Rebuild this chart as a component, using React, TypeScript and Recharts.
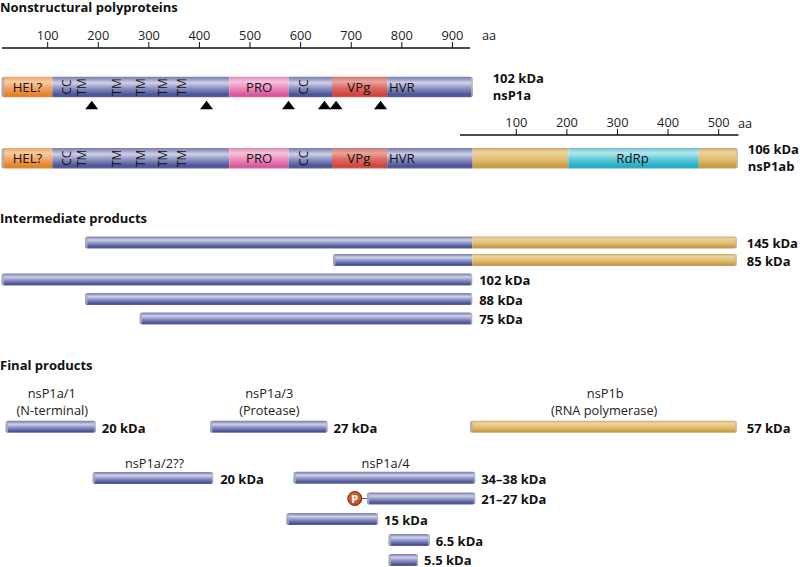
import React from "react";
import { ComposedChart, Bar, XAxis, YAxis, ReferenceDot } from "recharts";

// ---- data (amino-acid positions and lengths) ----
const rowNames = ["nsP1a", "nsP1ab", "i145", "i85", "i102", "i88", "i75", "nsP1a/1", "nsP1a/3", "nsP1b", "nsP1a/2", "nsP1a/4", "p21", "p15", "p6.5", "p5.5"];
const kda = ["102 kDa", "106 kDa", "145 kDa", "85 kDa", "102 kDa", "88 kDa", "75 kDa", "20 kDa", "27 kDa", "57 kDa", "20 kDa", "34–38 kDa", "21–27 kDa", "15 kDa", "6.5 kDa", "5.5 kDa"];
const gap = [9, 9, 174, 664, 9, 174, 282, 17, 421, 935, 189, 586, 731, 572, 774, 774];
const hel = [100, 100, 0, 0, 0, 0, 0, 0, 0, 0, 0, 0, 0, 0, 0, 0];
const ns = [350, 350, 765, 275, 930, 765, 657, 178, 232, 0, 238, 359, 214, 181, 81, 58];
const pro = [117, 117, 0, 0, 0, 0, 0, 0, 0, 0, 0, 0, 0, 0, 0, 0];
const cc = [86, 86, 0, 0, 0, 0, 0, 0, 0, 0, 0, 0, 0, 0, 0, 0];
const vpg = [109, 109, 0, 0, 0, 0, 0, 0, 0, 0, 0, 0, 0, 0, 0, 0];
const hvr = [169, 169, 0, 0, 0, 0, 0, 0, 0, 0, 0, 0, 0, 0, 0, 0];
const goldA = [0, 189, 523, 523, 0, 0, 0, 0, 0, 527, 0, 0, 0, 0, 0, 0];
const rdrp = [0, 258, 0, 0, 0, 0, 0, 0, 0, 0, 0, 0, 0, 0, 0, 0];
const goldB = [0, 77, 0, 0, 0, 0, 0, 0, 0, 0, 0, 0, 0, 0, 0, 0];
const cleavageSites = [187, 414, 576, 647, 670, 758];
const ticksA = [100, 200, 300, 400, 500, 600, 700, 800, 900];
const ticksB = [100, 200, 300, 400, 500];

const domains = [
  { text: "HEL?", aa: 60 }, { text: "CC", aa: 138, rot: true }, { text: "TM", aa: 166, rot: true },
  { text: "TM", aa: 236, rot: true }, { text: "TM", aa: 284, rot: true }, { text: "TM", aa: 326, rot: true },
  { text: "TM", aa: 365, rot: true }, { text: "PRO", aa: 518 }, { text: "CC", aa: 605, rot: true },
  { text: "VPg", aa: 715 }, { text: "HVR", aa: 800 },
];

const productNames = [
  { text: "nsP1a/1", aa: 108, line: 0 }, { text: "(N-terminal)", aa: 109, line: 1 },
  { text: "nsP1a/3", aa: 538, line: 0 }, { text: "(Protease)", aa: 538, line: 1 },
  { text: "nsP1b", aa: 1202, line: 0 }, { text: "(RNA polymerase)", aa: 1200, line: 1 },
  { text: "nsP1a/2??", aa: 311, line: 2 }, { text: "nsP1a/4", aa: 768, line: 2 },
];

// ---- layout ----
const W = 800, H = 567;
const PX_PER_AA = 0.5059;
const FONT = "'Open Sans', sans-serif";
const rowY = [87, 158.3, 242.5, 260, 279.5, 299, 318.5, 426.8, 426.8, 426.8, 478, 477.8, 498.5, 519, 540, 560];
const labelGap = [20, 10, 10, 10, 7, 7, 7, 6, 6, 10, 7, 6, 6, 6, 6, 6];
const lineY = [393, 410, 463];
const TALL = 2;

const segKeys = ["hel", "ns", "pro", "cc", "vpg", "hvr", "goldA", "rdrp", "goldB"];
const seriesByKey: Record<string, number[]> = { gap, hel, ns, pro, cc, vpg, hvr, goldA, rdrp, goldB };
const rows = rowNames.map((name, i) => {
  const r: any = { name, y: rowY[i], kda: kda[i], idx: i };
  Object.keys(seriesByKey).forEach((k) => (r[k] = seriesByKey[k][i]));
  r.end = Object.keys(seriesByKey).reduce((s, k) => s + seriesByKey[k][i], 0);
  return r;
});

const fillOf: Record<string, string> = {
  hel: "url(#gHel)", ns: "url(#gNs)", pro: "url(#gPro)", cc: "url(#gNs)", vpg: "url(#gVpg)", hvr: "url(#gNs)",
  goldA: "url(#gGold)", rdrp: "url(#gRdrp)", goldB: "url(#gGold)",
};

function makeShape(key: string) {
  return (p: any) => {
    const { x, y, width, payload } = p;
    if (!width || width <= 0) return <g />;
    const tall = payload.idx < TALL;
    const h = tall ? 20.5 : 12;
    const top = y - h / 2;
    const present = segKeys.filter((k) => payload[k] > 0);
    const first = present[0] === key;
    const last = present[present.length - 1] === key;
    const r = 2.5;
    const rl = first ? r : 0;
    const rr = last ? r : 0;
    const d = `M${x + rl},${top} H${x + width - rr} Q${x + width},${top} ${x + width},${top + rr} V${top + h - rr} Q${x + width},${top + h} ${x + width - rr},${top + h} H${x + rl} Q${x},${top + h} ${x},${top + h - rl} V${top + rl} Q${x},${top} ${x + rl},${top} Z`;
    return (
      <g>
        <path d={d} fill={fillOf[key]} />
        {first && <rect x={x} y={top + 0.5} width={2.4} height={h - 1} rx={1.2} fill="#a9abb8" fillOpacity={0.85} />}
        {last && <rect x={x + width - 1.6} y={top + 0.5} width={1.6} height={h - 1} rx={0.8} fill="#b8b9c2" fillOpacity={0.7} />}
      </g>
    );
  };
}

const Txt = (props: any) => <text fontFamily={FONT} fill="#111" dominantBaseline="central" {...props} />;

function Triangle(p: any) {
  const { cx, cy } = p;
  return <path d={`M${cx - 6.5},${cy + 4.2} L${cx},${cy - 4.2} L${cx + 6.5},${cy + 4.2} Z`} fill="#000" />;
}

function Phospho(p: any) {
  const { cx, cy } = p;
  return (
    <g>
      <line x1={cx + 7} x2={cx + 12} y1={cy} y2={cy} stroke="#555" strokeWidth={1} />
      <circle cx={cx} cy={cy} r={7} fill="url(#gP)" stroke="#7a2c10" strokeWidth={1} />
      <Txt x={cx} y={cy} textAnchor="middle" fontSize={11} fontWeight={700} fill="#fff">P</Txt>
    </g>
  );
}

function AaAxis({ left, top, width, domain, ticks }: any) {
  return (
    <div style={{ position: "absolute", left, top, width, height: 26 }}>
      <ComposedChart width={width} height={26} data={ticks.map((t: number) => ({ t }))} margin={{ top: 0, right: 0, bottom: 0, left: 0 }}>
        <XAxis
          dataKey="t"
          type="number"
          orientation="top"
          height={25}
          domain={domain}
          ticks={ticks}
          allowDataOverflow
          interval={0}
          stroke="#111"
          tickLine={{ stroke: "#111", strokeWidth: 1 }}
          axisLine={{ stroke: "#111", strokeWidth: 1.6 }}
          tickSize={6}
          tickMargin={2}
          tick={{ fontSize: 12.8, fill: "#222", fontFamily: FONT }}
        />
        <YAxis hide domain={[0, 1]} type="number" />
      </ComposedChart>
    </div>
  );
}

const grad = (id: string, stops: [number, string][]) => (
  <linearGradient id={id} x1="0" y1="0" x2="0" y2="1" key={id}>
    {stops.map(([o, c], i) => <stop key={i} offset={o} stopColor={c} />)}
  </linearGradient>
);

// x of plot pixel 0 and 800 in amino acids
const xDomain = [5.7, 5.7 + W / PX_PER_AA];

export default function App() {
  return (
    <div style={{ position: "absolute", left: 0, top: 0, width: W, height: H, overflow: "hidden", background: "#fff" }}>
      <ComposedChart width={W} height={H} layout="vertical" data={rows} margin={{ top: 0, right: 0, bottom: 0, left: 0 }} barCategoryGap={0}>
        <defs>
          {grad("gNs", [[0, "#777cab"], [0.1, "#8f93c0"], [0.3, "#d0d1e6"], [0.55, "#9094c6"], [0.88, "#4a5296"], [1, "#5d6399"]])}
          {grad("gHel", [[0, "#e8a468"], [0.25, "#f8cba0"], [0.55, "#f2a566"], [0.9, "#e57f25"], [1, "#d98a45"]])}
          {grad("gPro", [[0, "#d98cb4"], [0.25, "#f5c3dc"], [0.55, "#ec8fbd"], [0.9, "#d9559c"], [1, "#cf6ba1"]])}
          {grad("gVpg", [[0, "#c9776c"], [0.25, "#e9a69d"], [0.55, "#dd6a62"], [0.9, "#cf433d"], [1, "#c0625a"]])}
          {grad("gGold", [[0, "#cda766"], [0.2, "#ecd49c"], [0.55, "#e2bf74"], [0.9, "#c89a42"], [1, "#c2a060"]])}
          {grad("gRdrp", [[0, "#74c2cf"], [0.25, "#b4e7ee"], [0.55, "#5fcbdb"], [0.9, "#20adc4"], [1, "#4aa8b8"]])}
          <radialGradient id="gP" cx="0.45" cy="0.4" r="0.7">
            <stop offset={0} stopColor="#e8733a" />
            <stop offset={1} stopColor="#b33f1c" />
          </radialGradient>
        </defs>

        <XAxis type="number" hide domain={xDomain} allowDataOverflow />
        <YAxis type="number" hide dataKey="y" domain={[0, H]} allowDataOverflow width={0} />

        <Bar dataKey="gap" stackId="p" fill="none" barSize={20.5} isAnimationActive={false} />
        {segKeys.map((k) => (
          <Bar key={k} dataKey={k} stackId="p" barSize={20.5} isAnimationActive={false} shape={makeShape(k)} />
        ))}

        {/* cleavage sites */}
        {cleavageSites.map((aa, i) => (
          <ReferenceDot key={`c${i}`} x={aa} y={105} r={0} ifOverflow="visible" shape={Triangle} />
        ))}

        {/* phosphate on the 21–27 kDa product */}
        <ReferenceDot x={gap[12] - 24} y={rowY[12]} r={0} ifOverflow="visible" shape={Phospho} />

        {/* domain names on both polyproteins */}
        {[0, 1].flatMap((rowI) =>
          domains.map((d, i) => (
            <ReferenceDot
              key={`${rowI}-${i}`}
              x={d.aa}
              y={rowY[rowI]}
              r={0}
              ifOverflow="visible"
              shape={(p: any) => (
                <Txt x={p.cx} y={p.cy} textAnchor="middle" fontSize={d.rot ? 12 : 13.2} transform={d.rot ? `rotate(-90 ${p.cx} ${p.cy})` : undefined}>
                  {d.text}
                </Txt>
              )}
            />
          ))
        )}
        <ReferenceDot x={1256} y={rowY[1]} r={0} ifOverflow="visible" shape={(p: any) => <Txt x={p.cx} y={p.cy} textAnchor="middle" fontSize={13.2}>RdRp</Txt>} />

        {/* mass labels */}
        {rows.map((r, i) => (
          <ReferenceDot
            key={`k${i}`}
            x={r.end}
            y={i < TALL ? r.y - 9.5 : i === 15 ? r.y - 0.2 : r.y + 0.8}
            r={0}
            ifOverflow="visible"
            shape={(p: any) => <Txt x={p.cx + labelGap[i]} y={p.cy} fontSize={13} fontWeight={700}>{r.kda}</Txt>}
          />
        ))}
        {[0, 1].map((i) => (
          <ReferenceDot
            key={`n${i}`}
            x={rows[i].end}
            y={rows[i].y + 7.5}
            r={0}
            ifOverflow="visible"
            shape={(p: any) => <Txt x={p.cx + labelGap[i]} y={p.cy} fontSize={13} fontWeight={700}>{rowNames[i]}</Txt>}
          />
        ))}

        {/* product names */}
        {productNames.map((n, i) => (
          <ReferenceDot
            key={`p${i}`}
            x={n.aa}
            y={lineY[n.line]}
            r={0}
            ifOverflow="visible"
            shape={(p: any) => <Txt x={p.cx} y={p.cy} textAnchor="middle" fontSize={12.8} fill="#222">{n.text}</Txt>}
          />
        ))}

        {/* headers and axis units */}
        <Txt x={0} y={7} fontSize={13} fontWeight={700}>Nonstructural polyproteins</Txt>
        <Txt x={0} y={218} fontSize={13} fontWeight={700}>Intermediate products</Txt>
        <Txt x={0} y={365} fontSize={13} fontWeight={700}>Final products</Txt>
        <Txt x={482} y={35} fontSize={12.8} fill="#222">aa</Txt>
        <Txt x={738} y={123} fontSize={12.8} fill="#222">aa</Txt>
      </ComposedChart>

      <AaAxis left={2} top={23} width={468} domain={[9.7, 9.7 + 468 / PX_PER_AA]} ticks={ticksA} />
      <AaAxis left={460} top={110} width={278.5} domain={[-11.3, -11.3 + 278.5 / PX_PER_AA]} ticks={ticksB} />
    </div>
  );
}
